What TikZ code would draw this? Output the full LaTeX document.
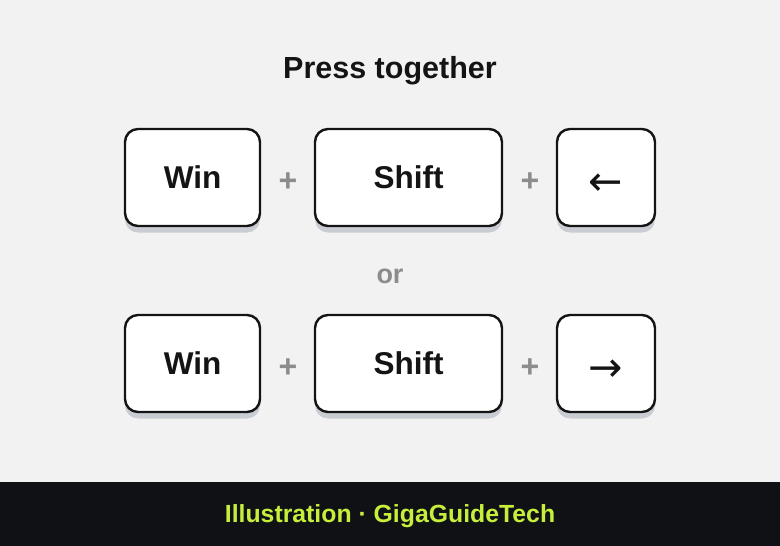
\documentclass[tikz,border=0pt]{standalone}
\usepackage{fontspec}
\setmainfont{Liberation Sans}
\newfontfamily\arrowfont{DejaVu Sans}
\definecolor{bg}{HTML}{F2F2F2}
\definecolor{keyline}{HTML}{141414}
\definecolor{keyshadow}{HTML}{CACCD3}
\definecolor{plusgray}{HTML}{8C8C8C}
\definecolor{footbg}{HTML}{0F1115}
\definecolor{footfg}{HTML}{C6EE3A}
\definecolor{txt}{HTML}{141414}
\tikzset{
  keycap/.style={draw=keyline, line width=2.4pt, fill=white, rounded corners=13pt,
    minimum height=97pt, inner sep=0pt, font=\fontsize{31.5}{36}\selectfont\bfseries, text=txt},
  keyshad/.style={fill=keyshadow, draw=none, rounded corners=13pt, minimum height=97pt, inner sep=0pt},
  plussign/.style={text=plusgray, font=\fontsize{32}{36}\selectfont\bfseries, inner sep=0pt},
  arrowtxt/.style={font=\fontsize{41}{44}\arrowfont, text=txt, inner sep=0pt}
}
\begin{document}
\begin{tikzpicture}[x=1pt,y=-1pt]
\useasboundingbox (0,0) rectangle (780,546);
\fill[bg] (0,0) rectangle (780,482);
\node[fill=footbg, minimum width=780pt, minimum height=64pt, inner sep=0pt, anchor=north west] (footer) at (0,482) {};
\node[text=footfg, font=\fontsize{24.8}{28}\selectfont\bfseries] (foottext) at (390,516) {Illustration · GigaGuideTech};
\node[text=txt, font=\fontsize{30.5}{34}\selectfont\bfseries] (title) at (390,71) {Press together};
\foreach \cx/\w/\nm in {192.5/135/a, 408.5/187/b, 606/98/c}{
  \node[keyshad, minimum width=\w pt] (s1\nm) at (\cx,184) {};
  \node[keyshad, minimum width=\w pt] (s2\nm) at (\cx,370) {};
}
\node[keycap, minimum width=135pt] (win1) at (192.5,177.5) {Win};
\node[keycap, minimum width=187pt] (shift1) at (408.5,177.5) {Shift};
\node[keycap, minimum width=98pt] (left1) at (606,177.5) {};
\node[arrowtxt] (leftglyph) at (606,185) {←};
\node[plussign] (p1) at (288,182) {+};
\node[plussign] (p2) at (530,182) {+};
\node[text=plusgray, font=\fontsize{27}{30}\selectfont\bfseries] (or) at (390,276) {or};
\node[keycap, minimum width=135pt] (win2) at (192.5,363.5) {Win};
\node[keycap, minimum width=187pt] (shift2) at (408.5,363.5) {Shift};
\node[keycap, minimum width=98pt] (right2) at (606,363.5) {};
\node[arrowtxt] (rightglyph) at (606,371) {→};
\node[plussign] (p3) at (288,368) {+};
\node[plussign] (p4) at (530,368) {+};
\end{tikzpicture}
\end{document}
